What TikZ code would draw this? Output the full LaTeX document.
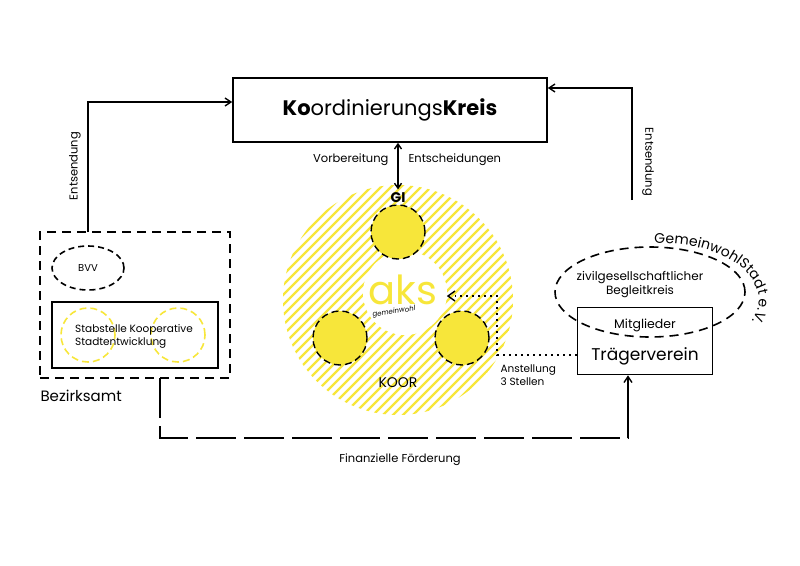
\documentclass[tikz,border=0pt]{standalone}
\usepackage{fontspec}
\setmainfont{Poppins}
\usetikzlibrary{positioning,arrows.meta,decorations.text,shapes.geometric}
\definecolor{aksgelb}{HTML}{F7E63A}
\tikzset{
  box/.style={draw,line width=1.6pt,inner sep=0pt},
  dashbox/.style={draw,line width=1.6pt,dash pattern=on 9pt off 6pt},
  gelbkreis/.style={circle,fill=aksgelb,draw=black,line width=1.4pt,dash pattern=on 7pt off 4pt,minimum size=54pt,inner sep=0pt},
  hohlkreis/.style={circle,draw=aksgelb,line width=1.6pt,dash pattern=on 7pt off 4pt,minimum size=54pt,inner sep=0pt},
  lbl/.style={font=\fontsize{11.5}{14}\selectfont,align=center},
  pfeil/.style={line width=1.4pt,-{Straight Barb[length=6pt,width=8pt]}}
}
\begin{document}
\begin{tikzpicture}[x=1pt,y=-1pt]
\useasboundingbox (0,0) rectangle (800,565);
% gelber Kreis, schraffiert
\begin{scope}
\clip (398,300) circle (115);
\foreach \i in {-260,-250,...,260}
  \draw[aksgelb,line width=2.2pt] (398+\i-120,420) -- (398+\i+120,180);
\end{scope}
\fill[white] (405,293) circle (42);
% Koordinierungskreis
\node[box,minimum width=314pt,minimum height=64pt,font=\fontsize{21}{25}\selectfont] (kk) at (390,110) {\textbf{Ko}ordinierungs\textbf{Kreis}};
\node[gelbkreis] (gi) at (398,232) {};
\node[gelbkreis] (koorl) at (340,338) {};
\node[gelbkreis] (koorr) at (462,338) {};
\node[font=\fontsize{14}{16}\selectfont\bfseries] (gilbl) at (398,198) {GI};
\node[font=\fontsize{14}{16}\selectfont] (koorlbl) at (398,383) {KOOR};
\node[text=aksgelb,font=\fontsize{40}{42}\selectfont] (aks) at (403,290) {aks};
\node[font=\fontsize{7}{8}\selectfont\itshape,rotate=8,fill=white,inner sep=0.5pt] (gw) at (394,312) {gemeinwohl};
\draw[line width=1.4pt,{Straight Barb[length=5pt,width=7pt]}-{Straight Barb[length=5pt,width=7pt]}] (kk.south -| gi) -- (gilbl.north);
\node[lbl,anchor=east] (vorb) at (392,160) {Vorbereitung};
\node[lbl,anchor=west] (ents) at (405,160) {Entscheidungen};
% Traegerverein
\node[box,minimum width=135pt,minimum height=67pt] (tv) at (645,341) {};
\node[lbl,font=\fontsize{12.5}{14}\selectfont] (mitgl) at (645,325) {Mitglieder};
\node[font=\fontsize{17}{19}\selectfont] (tvlbl) at (645,356) {Trägerverein};
\node[ellipse,dashbox,minimum width=190pt,minimum height=90pt] (beg) at (650,292) {};
\node[lbl,font=\fontsize{12}{14}\selectfont] (beglbl) at (640,285) {zivilgesellschaftlicher\\Begleitkreis};
\path[decorate,decoration={text along path,text align=left,
  text={|\fontsize{14}{16}\selectfont|GemeinwohlStadt e.V.}}]
  (650,292) ++(-100:55) ++(14,6) arc[start angle=-95,end angle=25,x radius=96,y radius=56];
% Anstellung
\coordinate (ecke1) at (497,296);
\coordinate (ecke2) at (497,355);
\draw[line width=2pt,dash pattern=on 2pt off 4pt] (tv.west |- ecke2) -- (ecke2) -- (ecke1) -- (455,296);
\draw[line width=1.4pt] (455,291) -- (448,296) -- (455,301);
\node[lbl,align=left,anchor=north west,font=\fontsize{10.5}{13}\selectfont] (anst) at (497,361) {Anstellung\\3 Stellen};
% Entsendung rechts
\coordinate (er) at (632,88);
\draw[pfeil] (632,200) -- (er) -- (kk.east |- er);
\node[lbl,rotate=-90] (entsr) at (648,162) {Entsendung};
% Bezirksamt
\node[dashbox,minimum width=190pt,minimum height=146pt] (ba) at (135,305) {};
\node[ellipse,dashbox,minimum width=72pt,minimum height=44pt,dash pattern=on 6pt off 4pt] (bvv) at (88,268) {};
\node[lbl,font=\fontsize{10}{12}\selectfont] (bvvlbl) at (88,268) {BVV};
\node[box,minimum width=166pt,minimum height=66pt] (stab) at (135,335) {};
\node[hohlkreis] (hk1) at (88,335) {};
\node[hohlkreis] (hk2) at (178,335) {};
\node[lbl,align=left,font=\fontsize{10.5}{13}\selectfont] (stablbl) at (134,336) {Stabstelle Kooperative\\Stadtentwicklung};
\node[font=\fontsize{15}{17}\selectfont,anchor=west] (balbl) at (37,396) {Bezirksamt};
\coordinate (el) at (88,102);
\draw[pfeil] (88,232) -- (el) -- (kk.west |- el);
\node[lbl,rotate=90] (entsl) at (75,166) {Entsendung};
% Finanzielle Foerderung
\coordinate (f1) at (160,438);
\coordinate (f2) at (628,438);
\draw[line width=1.6pt,dash pattern=on 40pt off 8pt] (160,378) -- (f1) -- (f2) -- (628,400);
\draw[pfeil] (628,400) -- (tv.south -| f2);
\node[lbl] (ff) at (400,460) {Finanzielle Förderung};
\end{tikzpicture}
\end{document}
